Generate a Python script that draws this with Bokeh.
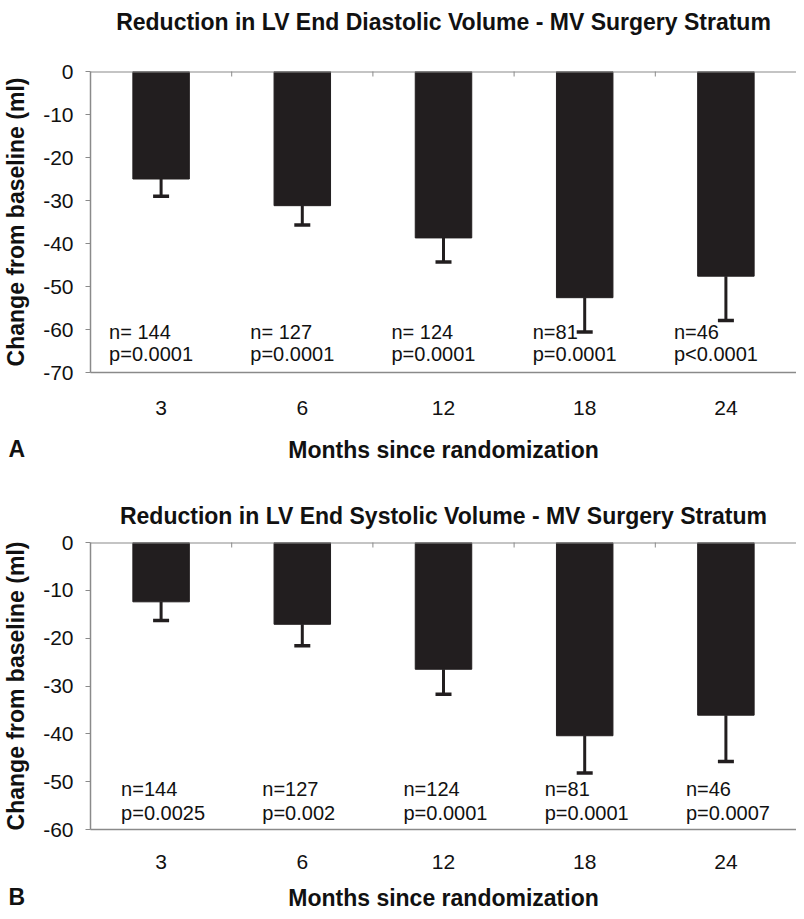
import math
from bokeh.plotting import figure
from bokeh.models import (FactorRange, Range1d, LinearAxis, CategoricalAxis,
                          FixedTicker, Label, ColumnDataSource, Span)
from bokeh.layouts import column
from bokeh.embed import file_html
from bokeh.resources import INLINE
from bokeh.core.properties import value
from bokeh.transform import dodge

# ---------------- data ----------------
months = ["3", "6", "12", "18", "24"]

edv_change = [-25.0, -31.2, -38.7, -52.6, -47.6]
edv_err = [4.0, 4.5, 5.6, 8.0, 10.3]
edv_n = ["n= 144", "n= 127", "n= 124", "n=81", "n=46"]
edv_p = ["p=0.0001", "p=0.0001", "p=0.0001", "p=0.0001", "p<0.0001"]
edv_ticks = [0, -10, -20, -30, -40, -50, -60, -70]

esv_change = [-12.4, -17.1, -26.5, -40.4, -36.1]
esv_err = [3.9, 4.5, 5.2, 7.8, 9.7]
esv_n = ["n=144", "n=127", "n=124", "n=81", "n=46"]
esv_p = ["p=0.0025", "p=0.002", "p=0.0001", "p=0.0001", "p=0.0007"]
esv_ticks = [0, -10, -20, -30, -40, -50, -60]

FONT = "Liberation Sans"
BAR = "#221e1f"
GRAY = "#8a8a8a"
INK = "#111111"


def panel(title, change, err, n_lab, p_lab, ticks, letter, height, top_b,
          frame_h, lab_dx, n_y, p_y, tick_standoff, lab_standoff, title_dy,
          letter_dy):
    ymin = min(ticks)
    bottom_b = height - top_b - frame_h
    p = figure(width=796, height=height, x_range=FactorRange(*months),
               y_range=Range1d(ymin, 0), output_backend="svg",
               toolbar_location=None, min_border_left=86, min_border_right=0,
               min_border_top=top_b, min_border_bottom=bottom_b,
               x_axis_location=None, y_axis_location=None)
    p.outline_line_color = None
    p.xgrid.visible = False
    p.ygrid.visible = False
    p.background_fill_color = "white"

    # left axis
    ya = LinearAxis(ticker=FixedTicker(ticks=ticks), axis_label="Change from baseline (ml)")
    ya.major_label_overrides = {t: str(t) for t in ticks}
    ya.axis_line_color = GRAY
    ya.axis_line_width = 1.5
    ya.major_tick_line_color = GRAY
    ya.major_tick_out = 5
    ya.major_tick_in = 0
    ya.minor_tick_line_color = None
    ya.major_label_text_font = FONT
    ya.major_label_text_font_size = "21px"
    ya.major_label_text_color = INK
    ya.major_label_standoff = 12
    ya.axis_label_text_font = FONT
    ya.axis_label_text_font_size = "23px"
    ya.axis_label_text_font_style = "bold"
    ya.axis_label_text_color = INK
    ya.axis_label_standoff = 11
    p.add_layout(ya, "left")

    # bottom axis
    xa = CategoricalAxis(axis_label="Months since randomization")
    xa.axis_line_color = GRAY
    xa.axis_line_width = 1.5
    xa.major_tick_line_color = None
    xa.minor_tick_line_color = None
    xa.major_label_text_font = FONT
    xa.major_label_text_font_size = "21px"
    xa.major_label_text_color = INK
    xa.major_label_standoff = tick_standoff
    xa.axis_label_text_font = FONT
    xa.axis_label_text_font_size = "23px"
    xa.axis_label_text_font_style = "bold"
    xa.axis_label_text_color = INK
    xa.axis_label_standoff = lab_standoff
    p.add_layout(xa, "below")

    # top zero line with small ticks at category boundaries
    p.add_layout(Span(location=0, dimension="width", line_color=GRAY, line_width=2))
    bsrc = ColumnDataSource(dict(x=months[:-1]))
    p.scatter(x=dodge("x", 0.5, range=p.x_range), y=0, source=bsrc,
              marker="dash", angle=math.pi / 2, size=10, line_color=GRAY,
              line_width=1)

    low = [c - e for c, e in zip(change, err)]
    src = ColumnDataSource(dict(x=months, top=change, low=low, n=n_lab, pv=p_lab))
    p.vbar(x="x", top=0, bottom="top", width=0.40, source=src,
           fill_color=BAR, line_color=BAR)
    p.segment(x0="x", y0="top", x1="x", y1="low", source=src,
              line_color=BAR, line_width=3)
    p.scatter(x="x", y="low", source=src, marker="dash", size=16,
              line_color=BAR, line_width=3.5)

    p.text(x="x", y=n_y, text="n", source=src, x_offset=lab_dx,
           text_font=value(FONT), text_font_size="20px", text_color=INK,
           text_baseline="middle", text_align="left")
    p.text(x="x", y=p_y, text="pv", source=src, x_offset=lab_dx,
           text_font=value(FONT), text_font_size="20px", text_color=INK,
           text_baseline="middle", text_align="left")

    # chart title (centred over the plotting area), held in the top border
    p.add_layout(Label(x=len(months) / 2, y=0, y_offset=title_dy, text=title,
                       text_font=FONT, text_font_size="23px",
                       text_font_style="bold", text_color=INK,
                       text_baseline="middle", text_align="center"), "above")
    # panel letter, level with the x-axis title (also held in the top border
    # so that it does not take space from the plotting area)
    p.add_layout(Label(x=0, y=ymin, x_offset=-82, y_offset=letter_dy,
                       text=letter, text_font=FONT, text_font_size="23px",
                       text_font_style="bold", text_color=INK,
                       text_baseline="middle", text_align="left"), "above")
    return p


p1 = panel("Reduction in LV End Diastolic Volume - MV Surgery Stratum",
           edv_change, edv_err, edv_n, edv_p, edv_ticks, "A",
           height=465, top_b=71, frame_h=302, lab_dx=-52, n_y=-60.5, p_y=-65.6,
           tick_standoff=22, lab_standoff=19, title_dy=50, letter_dy=-76)
p2 = panel("Reduction in LV End Systolic Volume - MV Surgery Stratum",
           esv_change, esv_err, esv_n, esv_p, esv_ticks, "B",
           height=448, top_b=77, frame_h=288, lab_dx=-40, n_y=-51.5, p_y=-56.5,
           tick_standoff=19, lab_standoff=13, title_dy=27, letter_dy=-67)

layout = column(p1, p2, spacing=0)
open("out.html", "w").write(file_html(layout, INLINE))
